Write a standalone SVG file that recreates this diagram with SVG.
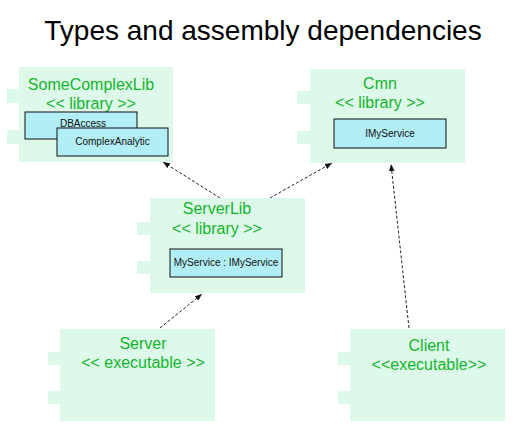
<svg xmlns="http://www.w3.org/2000/svg" width="525" height="436" viewBox="0 0 525 436">
<defs>
<marker id="ah" viewBox="0 0 10 10" refX="10" refY="5" markerWidth="7" markerHeight="7" orient="auto" markerUnits="userSpaceOnUse">
<path d="M0,1 L10,5 L0,9 Z" fill="#111"/>
</marker>
<style>
.comp{fill:#dcf9e9;stroke:none}
.t{font-family:"Liberation Sans",Arial,sans-serif;font-size:16px;fill:#14b52e;text-anchor:middle}
.cls{fill:#b2eef5;stroke:#111;stroke-width:1}
.ct{font-family:"Liberation Sans",Arial,sans-serif;font-size:10px;fill:#111;text-anchor:middle}
.dep{stroke:#222;stroke-width:1;stroke-dasharray:3,2;fill:none;marker-end:url(#ah)}
</style>
</defs>
<rect width="525" height="436" fill="#fff"/>
<text x="263" y="40" font-family="'Liberation Sans',Arial,sans-serif" font-size="28" text-anchor="middle" fill="#000">Types and assembly dependencies</text>
<g id="connectors">
<line class="dep" x1="220" y1="198" x2="163" y2="162"/>
<line class="dep" x1="270" y1="198" x2="332" y2="163"/>
<line class="dep" x1="160" y1="328" x2="202" y2="294"/>
<line class="dep" x1="409" y1="328" x2="391" y2="164"/>
</g>
<g id="SomeComplexLib">
<rect class="comp" x="19" y="67" width="154" height="95"/>
<rect class="comp" x="7" y="89" width="12" height="14"/>
<rect class="comp" x="7" y="130" width="12" height="14"/>
<text class="t" x="91" y="90">SomeComplexLib</text>
<text class="t" x="91" y="109">&lt;&lt; library &gt;&gt;</text>
<g id="DBAccess">
<rect class="cls" x="25" y="112" width="112" height="27"/>
<text class="ct" x="83" y="127">DBAccess</text>
</g>
<g id="ComplexAnalytic">
<rect class="cls" x="57" y="128" width="111" height="28"/>
<text class="ct" x="112.5" y="145">ComplexAnalytic</text>
</g>
</g>
<g id="Cmn">
<rect class="comp" x="310" y="69" width="155" height="94"/>
<rect class="comp" x="297" y="91" width="13" height="13"/>
<rect class="comp" x="297" y="131" width="13" height="13"/>
<text class="t" x="380" y="89">Cmn</text>
<text class="t" x="380" y="108">&lt;&lt; library &gt;&gt;</text>
<g id="IMyService">
<rect class="cls" x="334" y="119" width="112" height="29"/>
<text class="ct" x="390" y="137">IMyService</text>
</g>
</g>
<g id="ServerLib">
<rect class="comp" x="150" y="198" width="155" height="95"/>
<rect class="comp" x="137" y="222" width="13" height="13"/>
<rect class="comp" x="137" y="261" width="13" height="13"/>
<text class="t" x="217" y="214">ServerLib</text>
<text class="t" x="217" y="234">&lt;&lt; library &gt;&gt;</text>
<g id="MyService">
<rect class="cls" x="170" y="249" width="112" height="28"/>
<text class="ct" x="226" y="266">MyService : IMyService</text>
</g>
</g>
<g id="Server">
<rect class="comp" x="60" y="329" width="155" height="92"/>
<rect class="comp" x="48" y="352" width="12" height="13"/>
<rect class="comp" x="48" y="391" width="12" height="13"/>
<text class="t" x="143" y="349">Server</text>
<text class="t" x="143" y="368">&lt;&lt; executable &gt;&gt;</text>
</g>
<g id="Client">
<rect class="comp" x="350" y="329" width="155" height="92"/>
<rect class="comp" x="338" y="352" width="12" height="13"/>
<rect class="comp" x="338" y="391" width="12" height="13"/>
<text class="t" x="429" y="351">Client</text>
<text class="t" x="429" y="370">&lt;&lt;executable&gt;&gt;</text>
</g>
</svg>
